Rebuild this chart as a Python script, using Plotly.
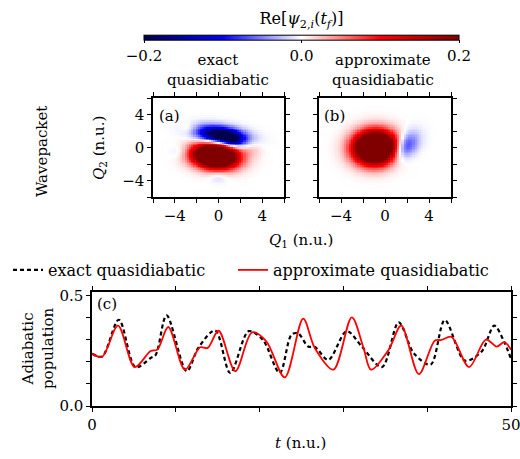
import numpy as np
import plotly.graph_objects as go

# ---- panel (c): adiabatic population vs time (key points, drawn as splines)
t_exact = [0, 1.2, 3.2, 5.2, 7.0, 7.6, 8.9, 11.3, 12.7, 14.7, 16.5, 18.7, 20.4,
           22.4, 23.8, 24.6, 25.8, 26.6, 28.2, 30.4, 32.2, 34.6, 36.6, 38.4,
           40.4, 42.1, 44.5, 46.5, 48.0, 49.2, 50]
pop_exact = [0.238, 0.225, 0.392, 0.176, 0.218, 0.232, 0.412, 0.158, 0.265,
             0.343, 0.150, 0.340, 0.300, 0.150, 0.324, 0.330, 0.270, 0.268,
             0.210, 0.340, 0.270, 0.177, 0.380, 0.240, 0.188, 0.390, 0.206,
             0.248, 0.365, 0.290, 0.214]

t_approx = [0, 1.2, 3.1, 5.1, 7.0, 7.8, 9.1, 11.1, 12.9, 13.8, 15.1, 17.1,
            19.1, 20.8, 23.0, 25.2, 26.6, 28.8, 31.0, 32.4, 33.3, 35.4, 36.9,
            39.0, 40.9, 41.7, 42.9, 45.0, 47.0, 48.3, 49.2, 50]
pop_approx = [0.238, 0.223, 0.365, 0.177, 0.250, 0.256, 0.359, 0.165, 0.267,
              0.264, 0.342, 0.158, 0.335, 0.294, 0.130, 0.397, 0.262, 0.165,
              0.403, 0.264, 0.165, 0.256, 0.365, 0.145, 0.297, 0.300, 0.314,
              0.177, 0.302, 0.270, 0.290, 0.256]

# ---- panels (a), (b): Re[psi_{2,i}(t_f)] built from Gaussian lobes
# each lobe: amplitude, centre (Q1, Q2), widths (s1, s2), rotation (deg)
lobe_a_amp = [0.50, -0.26, -0.08, 0.025, -0.02, -0.02, 0.02]
lobe_a_q1 = [-0.3, 0.3, 1.3, 3.0, -3.5, 0.0, -2.7]
lobe_a_q2 = [-1.0, 1.45, 1.0, 0.0, -0.5, -3.5, 2.3]
lobe_a_s1 = [1.35, 1.5, 0.6, 0.7, 0.6, 0.6, 0.5]
lobe_a_s2 = [0.95, 0.7, 0.45, 0.7, 0.6, 0.5, 0.5]
lobe_a_rot = [-10, -12, -20, 0, 0, 0, 0]

lobe_b_amp = [0.50, -0.10]
lobe_b_q1 = [-0.9, 1.8]
lobe_b_q2 = [0.0, 0.1]
lobe_b_s1 = [1.25, 0.7]
lobe_b_s2 = [1.3, 1.2]
lobe_b_rot = [-20, -25]

q_grid = np.linspace(-6, 6, 61)


def wavepacket(amp, c1, c2, s1, s2, rot):
    Q1, Q2 = np.meshgrid(q_grid, q_grid)
    z = np.zeros_like(Q1)
    for a, x0, y0, sx, sy, r in zip(amp, c1, c2, s1, s2, rot):
        th = np.deg2rad(r)
        u = (Q1 - x0) * np.cos(th) + (Q2 - y0) * np.sin(th)
        v = -(Q1 - x0) * np.sin(th) + (Q2 - y0) * np.cos(th)
        z += a * np.exp(-0.5 * ((u / sx) ** 2 + (v / sy) ** 2))
    return z


z_a = wavepacket(lobe_a_amp, lobe_a_q1, lobe_a_q2, lobe_a_s1, lobe_a_s2, lobe_a_rot)
z_b = wavepacket(lobe_b_amp, lobe_b_q1, lobe_b_q2, lobe_b_s1, lobe_b_s2, lobe_b_rot)

seismic = [[0.0, "rgb(0,0,77)"], [0.25, "rgb(0,0,255)"], [0.5, "rgb(255,255,255)"],
           [0.75, "rgb(255,0,0)"], [1.0, "rgb(128,0,0)"]]

FONT = "DejaVu Serif"
FS = 15
W, H = 520, 459


def px(x):
    return x / W


def py(y):
    return 1 - y / H


fig = go.Figure()

fig.add_trace(go.Heatmap(
    x=q_grid, y=q_grid, z=z_a, zmin=-0.2, zmax=0.2, colorscale=seismic,
    xaxis="x", yaxis="y", showscale=True,
    colorbar=dict(
        orientation="h", x=px(301.5), xanchor="center", y=py(40), yanchor="middle",
        len=315 / W, lenmode="fraction", thickness=5, thicknessmode="pixels",
        xpad=0, ypad=0,
        outlinecolor="black", outlinewidth=1,
        tickvals=[-0.2, 0.0, 0.2], ticktext=["\u22120.2", "0.0", "0.2"],
        ticks="outside", ticklen=3, tickcolor="black",
        tickfont=dict(family=FONT, size=FS, color="black"),
        title=dict(text="Re[<i>\u03c8</i><sub>2,<i>i</i></sub>(<i>t</i><sub><i>f</i></sub>)]",
                   side="top", font=dict(family=FONT, size=16, color="black")),
    ),
))
fig.add_trace(go.Heatmap(
    x=q_grid, y=q_grid, z=z_b, zmin=-0.2, zmax=0.2, colorscale=seismic,
    xaxis="x2", yaxis="y2", showscale=False,
))

fig.add_trace(go.Scatter(
    x=t_exact, y=pop_exact, mode="lines", name="exact quasidiabatic",
    line=dict(color="black", width=2.2, dash="4px,3px", shape="spline", smoothing=0.9),
    xaxis="x3", yaxis="y3", legend="legend",
))
fig.add_trace(go.Scatter(
    x=t_approx, y=pop_approx, mode="lines", name="approximate quasidiabatic",
    line=dict(color="red", width=1.8, shape="spline", smoothing=0.9),
    xaxis="x3", yaxis="y3", legend="legend2",
))

tickfont = dict(family=FONT, size=FS, color="black")
frame = dict(showline=True, linecolor="black", linewidth=1.5, mirror="allticks",
             ticks="outside", ticklen=4, tickcolor="black", tickwidth=1,
             showgrid=False, zeroline=False, tickfont=tickfont, automargin=False,
             ticklabeloverflow="allow")
q_minor = dict(tickvals=[-6, -2, 2, 6], ticks="outside", ticklen=4, tickcolor="black")
legend_style = dict(orientation="h", yanchor="middle", xanchor="left",
                    font=dict(family=FONT, size=16), bgcolor="rgba(0,0,0,0)")

fig.update_layout(
    width=W, height=H, margin=dict(l=0, r=0, t=0, b=0, autoexpand=False),
    paper_bgcolor="white", plot_bgcolor="white",
    font=dict(family=FONT, size=FS, color="black"),
    showlegend=True,
    legend=dict(x=px(8), y=py(270), **legend_style),
    legend2=dict(x=px(233), y=py(270), **legend_style),
    xaxis=dict(domain=[px(153), px(284)], range=[-6, 6], tickvals=[-4, 0, 4],
               ticktext=["\u22124", "0", "4"], minor=q_minor, anchor="y", **frame),
    yaxis=dict(domain=[py(197), py(98)], range=[-6, 6], tickvals=[-4, 0, 4],
               ticktext=["\u22124", "0", "4"], minor=q_minor, anchor="x", **frame),
    xaxis2=dict(domain=[px(319), px(451)], range=[-6, 6], tickvals=[-4, 0, 4],
                ticktext=["\u22124", "0", "4"], minor=q_minor, anchor="y2", **frame),
    yaxis2=dict(domain=[py(197), py(98)], range=[-6, 6], tickvals=[-4, 0, 4],
                showticklabels=False, minor=q_minor, anchor="x2", **frame),
    xaxis3=dict(domain=[px(92), px(511)], range=[0, 50], tickvals=[0, 50],
                minor=dict(tickvals=[10, 20, 30, 40], ticks="outside", ticklen=4,
                           tickcolor="black"), anchor="y3", **frame),
    yaxis3=dict(domain=[py(406), py(292)], range=[0, 0.518], tickvals=[0, 0.5],
                ticktext=["0.0", "0.5"],
                minor=dict(tickvals=[0.1, 0.2, 0.3, 0.4], ticks="outside", ticklen=4,
                           tickcolor="black"), anchor="x3", **frame),
)

ann = [
    dict(text="exact<br>quasidiabatic", x=px(218), y=py(70)),
    dict(text="approximate<br>quasidiabatic", x=px(383), y=py(70)),
    dict(text="(a)", x=px(169), y=py(116)),
    dict(text="(b)", x=px(334), y=py(116)),
    dict(text="(c)", x=px(107), y=py(304)),
    dict(text="<i>Q</i><sub>1</sub> (n.u.)", x=px(301), y=py(240)),
    dict(text="<i>Q</i><sub>2</sub> (n.u.)", x=px(99), y=py(148), textangle=-90),
    dict(text="Wavepacket", x=px(42), y=py(152), textangle=-90),
    dict(text="Adiabatic<br>population", x=px(38), y=py(349), textangle=-90),
    dict(text="<i>t</i> (n.u.)", x=px(300), y=py(443)),
]
for a in ann:
    fig.add_annotation(xref="paper", yref="paper", showarrow=False,
                       xanchor="center", yanchor="middle",
                       font=dict(family=FONT, size=FS, color="black"), **a)

fig.write_html("out.html")
